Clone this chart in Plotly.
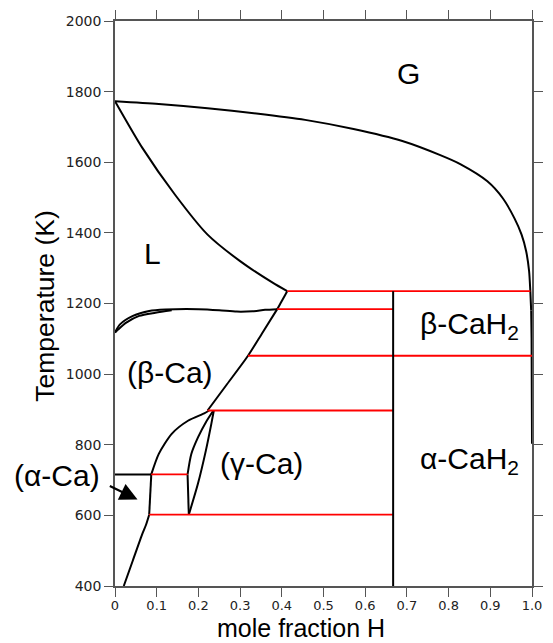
import plotly.graph_objects as go

# Ca–H phase diagram: temperature vs. mole fraction of hydrogen

# Gas / (liquid + gas) boundary
gas_x = [0, 0.105, 0.222, 0.339, 0.456, 0.572, 0.689, 0.78, 0.829, 0.893, 0.93,
         0.958, 0.975, 0.986, 0.993, 0.996, 0.998]
gas_T = [1773, 1765, 1753, 1738, 1720, 1694, 1660, 1620, 1594, 1546, 1498,
         1441, 1395, 1348, 1292, 1235, 1180]
# near-vertical tail of the gas boundary along x = 1
gas_tail_x = [0.998, 0.999, 1.0]
gas_tail_T = [1180, 1100, 803]

# Liquid boundary (L / L+G and L / L+CaH2)
liq_x = [0, 0.066, 0.144, 0.222, 0.300, 0.378, 0.413]
liq_T = [1773, 1640, 1508, 1395, 1320, 1259, 1235]
liq2_x = [0.413, 0.389]
liq2_T = [1235, 1184]

# beta-Ca solvus towards CaH2
bsolv_x = [0.389, 0.354, 0.319, 0.269, 0.222]
bsolv_T = [1184, 1118, 1052, 972, 897]

# Liquidus / solidus of beta-Ca near pure Ca
bliq_x = [0, 0.012, 0.043, 0.082, 0.121, 0.2, 0.25, 0.292, 0.33, 0.36, 0.389]
bliq_T = [1118, 1141, 1165, 1179, 1183, 1184, 1181, 1177, 1178, 1182, 1184]
bsol_x = [0, 0.008, 0.027, 0.058, 0.097, 0.136]
bsol_T = [1118, 1127, 1146, 1165, 1174, 1181]

# alpha-Ca solvus
alpha_x = [0.021, 0.043, 0.066, 0.074, 0.082]
alpha_T = [400, 473, 549, 572, 602]
alpha_r_x = [0.082, 0.087]
alpha_r_T = [602, 716]

# lower beta-Ca boundary (beta / beta+gamma)
blow_x = [0.087, 0.105, 0.136, 0.175, 0.214, 0.226]
blow_T = [716, 774, 831, 868, 889, 897]

# gamma-Ca field
gleft_x = [0.236, 0.218, 0.199, 0.183, 0.174]
gleft_T = [897, 864, 821, 774, 716]
gbot_x = [0.174, 0.177]
gbot_T = [716, 602]
gright_x = [0.177, 0.199, 0.218, 0.231, 0.237]
gright_T = [602, 690, 784, 859, 897]

# alpha/beta-Ca transition at the Ca side
ab_x = [0, 0.087]
ab_T = [716, 716]

# Invariant (three-phase) horizontals
iso_T = [1235, 1184, 1052, 897, 716, 602]
iso_x0 = [0.413, 0.389, 0.319, 0.222, 0.087, 0.082]
iso_x1 = [0.996, 0.667, 1.0, 0.667, 0.174, 0.667]

# CaH2 line compound
cah2_x = [0.667, 0.667]
cah2_T = [400, 1235]

x_ticks = [0, 0.1, 0.2, 0.3, 0.4, 0.5, 0.6, 0.7, 0.8, 0.9, 1.0]
x_ticktext = ["0", "0.1", "0.2", "0.3", "0.4", "0.5", "0.6", "0.7", "0.8", "0.9", "1.0"]
y_ticks = [400, 600, 800, 1000, 1200, 1400, 1600, 1800, 2000]

fig = go.Figure()

red = dict(color="#ff0000", width=1.8)

curves = [
    (gas_x, gas_T, "spline"), (gas_tail_x, gas_tail_T, "linear"),
    (liq_x, liq_T, "spline"), (liq2_x, liq2_T, "linear"),
    (bsolv_x, bsolv_T, "spline"),
    (bliq_x, bliq_T, "spline"), (bsol_x, bsol_T, "spline"),
    (alpha_x, alpha_T, "spline"), (alpha_r_x, alpha_r_T, "linear"),
    (blow_x, blow_T, "spline"),
    (gleft_x, gleft_T, "spline"), (gbot_x, gbot_T, "linear"),
    (gright_x, gright_T, "spline"),
    (ab_x, ab_T, "linear"),
]
for xs, ts, shape in curves:
    fig.add_trace(go.Scatter(x=xs, y=ts, mode="lines",
                             line=dict(color="black", width=2, shape=shape, smoothing=0.7),
                             hoverinfo="skip"))

for t, a, b in zip(iso_T, iso_x0, iso_x1):
    fig.add_trace(go.Scatter(x=[a, b], y=[t, t], mode="lines", line=red,
                             hoverinfo="skip"))

fig.add_trace(go.Scatter(x=cah2_x, y=cah2_T, mode="lines",
                         line=dict(color="black", width=2), hoverinfo="skip"))

label_font = dict(family="Liberation Sans, Arial, sans-serif", size=30, color="black")
labels = [
    ("G", 0.705, 1850),
    ("L", 0.089, 1342),
    ("(β-Ca)", 0.131, 1004),
    ("(γ-Ca)", 0.352, 748),
    ("β-CaH<sub>2</sub>", 0.849, 1137),
    ("α-CaH<sub>2</sub>", 0.851, 756),
]
for text, x, y in labels:
    fig.add_annotation(x=x, y=y, text=text, showarrow=False, font=label_font,
                       xanchor="center", yanchor="middle")

# label to the left of the axis, placed in paper units
fig.add_annotation(xref="paper", yref="paper", x=-0.138, y=0.196, text="(α-Ca)",
                   showarrow=False, font=label_font, xanchor="center", yanchor="middle")

# arrow pointing into the alpha-Ca field
fig.add_annotation(x=0.054, y=645, ax=-0.016, ay=685, axref="x", ayref="y",
                   text="", showarrow=True, arrowhead=2, arrowsize=1.6,
                   arrowwidth=2.2, arrowcolor="black", standoff=0)

title_font = dict(family="Liberation Sans, Arial, sans-serif", size=25, color="black")
fig.add_annotation(xref="paper", yref="paper", x=0.447, y=-0.0745,
                   text="mole fraction H", showarrow=False, font=title_font,
                   xanchor="center", yanchor="middle")
fig.add_annotation(xref="paper", yref="paper", x=-0.168, y=0.496,
                   text="Temperature (K)", showarrow=False,
                   font=dict(family="Liberation Sans, Arial, sans-serif", size=26.5, color="black"),
                   textangle=-90, xanchor="center", yanchor="middle")

axis_common = dict(showline=True, linecolor="#555", linewidth=1.5, mirror="ticks",
                   ticks="outside", ticklen=9, tickwidth=1.3, tickcolor="#555",
                   showgrid=False, zeroline=False)

fig.update_xaxes(range=[0, 1.0], tickvals=x_ticks, ticktext=x_ticktext,
                 tickfont=dict(family="DejaVu Sans", size=13, color="#222"),
                 ticklabelstandoff=-2, **axis_common)
fig.update_yaxes(range=[400, 2000], tickvals=y_ticks,
                 tickfont=dict(family="DejaVu Sans", size=14, color="#222"),
                 **axis_common)

fig.update_layout(width=553, height=643, showlegend=False,
                  margin=dict(l=115, r=10, t=19, b=57),
                  plot_bgcolor="white", paper_bgcolor="white")

fig.write_html("out.html")
